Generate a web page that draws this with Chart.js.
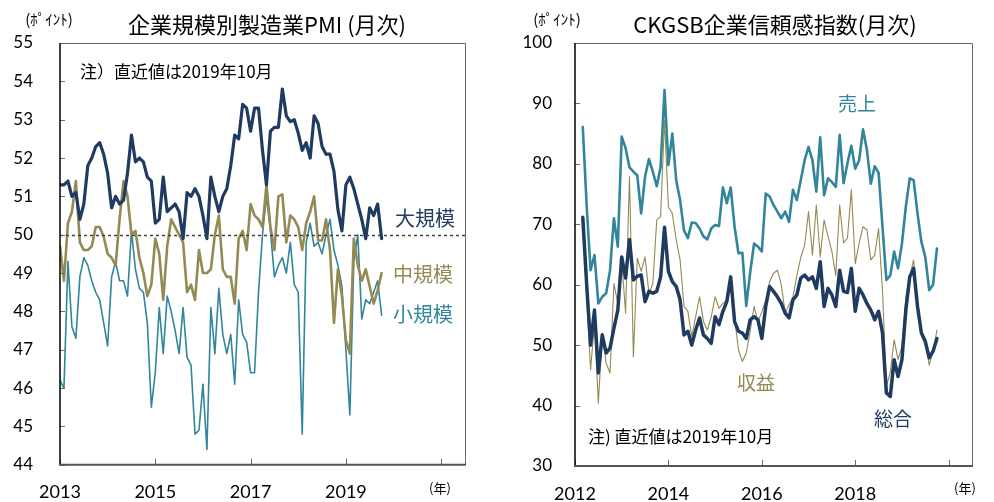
<!DOCTYPE html>
<html>
<head>
<meta charset="utf-8">
<script src="https://cdn.jsdelivr.net/npm/chart.js@4.4.1/dist/chart.umd.min.js"></script>
<style>
  html, body { margin: 0; padding: 0; background: #fff; }
  #wrap { position: relative; width: 994px; height: 502px; overflow: hidden; }
  canvas { position: absolute; top: 0; }
  #c1 { left: 0; }
  #c2 { left: 497px; }
</style>
</head>
<body>
<div id="wrap">
  <canvas id="c1" width="497" height="502"></canvas>
  <canvas id="c2" width="497" height="502"></canvas>
</div>
<script>
// ---------------- DATA ----------------
// Left: 企業規模別製造業PMI, monthly from 2013-01 to 2019-10
const pmiStart = { year: 2013, month: 1 };
const pmiLarge = [
  51.3, 51.3, 51.4, 51.0, 51.1, 50.4, 50.8, 51.8, 52.0, 52.3,
  52.4, 52.1, 51.6, 50.7, 51.0, 50.8, 50.9, 51.6, 52.6, 51.9,
  52.0, 51.9, 51.5, 51.4, 50.3, 50.4, 51.5, 50.6, 50.7, 50.8,
  50.6, 49.9, 51.1, 51.0, 51.2, 51.0, 50.5, 49.9, 51.5, 51.0,
  50.6, 51.0, 51.2, 51.8, 52.6, 52.5, 53.4, 53.3, 52.7, 53.3,
  53.3, 52.2, 51.3, 52.7, 52.8, 52.8, 53.8, 53.1, 52.95, 53.0,
  52.65, 52.2, 52.4, 52.0, 53.1, 52.9, 52.3, 52.1, 52.1, 51.65,
  50.65, 50.1, 51.3, 51.5, 51.2, 50.8, 50.4, 49.9, 50.7, 50.5,
  50.8, 49.9
];
const pmiMedium = [
  49.7, 48.8, 50.3, 50.6, 51.4, 49.8, 49.6, 49.6, 49.7, 50.2,
  50.2, 49.95, 49.5, 49.4, 49.2, 50.4, 51.4, 51.0, 50.0, 50.1,
  49.4, 49.0, 48.4, 48.7, 49.9, 49.5, 48.3, 49.7, 50.4, 50.2,
  50.0, 49.8, 48.5, 48.7, 48.3, 49.6, 49.0, 49.0, 49.1, 50.0,
  50.5, 49.1, 48.9, 48.9, 48.2, 49.9, 50.1, 49.6, 50.8, 50.5,
  50.4, 50.2, 51.3, 50.2, 49.6, 51.0, 51.05, 49.8, 50.5, 50.4,
  50.2, 49.6, 50.3, 50.6, 51.0, 49.85, 49.85, 50.4, 49.6, 47.7,
  49.1, 48.4, 47.25, 46.9, 49.9, 49.2, 48.8, 49.1, 48.65, 48.2,
  48.55, 49.0
];
const pmiSmall = [
  46.2, 46.0, 49.3, 47.6, 47.3, 48.9, 49.4, 49.2, 48.8, 48.5,
  48.3, 47.7, 47.1, 48.9, 49.3, 48.8, 48.8, 48.4, 50.1, 49.1,
  48.6, 48.5, 47.7, 45.5, 46.4, 48.1, 46.9, 48.4, 48.0, 47.5,
  46.9, 48.1, 46.8, 46.6, 44.8, 44.9, 46.1, 44.4, 48.1, 46.9,
  48.6, 47.4, 46.9, 47.4, 46.1, 48.3, 47.4, 47.2, 46.4, 46.4,
  48.5, 50.0, 51.0, 50.1, 48.9, 49.2, 49.4, 49.0, 49.8, 48.7,
  48.5, 44.8, 49.8, 50.3, 49.7, 49.8, 49.5, 50.0, 50.4, 49.6,
  49.2, 48.65, 47.0, 45.3, 49.3, 50.0, 47.8, 48.3, 48.2, 48.5,
  48.8, 47.9
];
const pmiTickYears = ['2013', '2015', '2017', '2019', ''];

// Right: CKGSB企業信頼感指数, monthly from 2012-03 to 2019-10
const bciStart = { year: 2012, month: 3 };
const bciSales = [
  86.1, 73.0, 62.4, 64.9, 56.9, 58.0, 58.6, 62.4, 71.0, 66.3,
  84.5, 82.6, 79.4, 78.7, 78.1, 71.8, 77.9, 80.8, 78.7, 76.3,
  79.5, 92.2, 79.8, 85.0, 77.3, 74.0, 69.0, 67.7, 70.3, 70.2,
  69.3, 68.0, 67.5, 69.3, 69.9, 69.7, 76.1, 73.5, 76.1, 69.6,
  65.2, 65.3, 56.5, 62.0, 66.8, 66.3, 65.5, 75.1, 74.6, 73.2,
  72.1, 71.0, 72.1, 70.4, 75.7, 74.0, 77.3, 80.6, 82.8, 80.6,
  75.4, 84.4, 74.8, 77.6, 77.0, 76.2, 84.8, 76.8, 80.1, 83.0,
  79.2, 80.6, 85.7, 82.3, 76.7, 79.6, 78.5, 69.6, 60.8, 61.5,
  65.5, 62.7, 66.8, 72.9, 77.6, 77.3, 71.8, 67.1, 64.6, 59.1,
  60.0, 66.0
];
const bciProfit = [
  71.0, 58.0, 45.9, 53.6, 40.4, 52.0, 47.0, 45.4, 60.2, 56.9,
  64.1, 55.3, 77.9, 48.1, 64.4, 62.2, 64.6, 58.6, 60.2, 70.7,
  71.3, 87.2, 72.9, 71.8, 67.4, 64.1, 56.4, 55.6, 51.4, 54.7,
  58.0, 53.9, 52.5, 54.7, 58.0, 56.1, 56.9, 57.5, 61.3, 54.5,
  49.2, 47.3, 48.7, 52.3, 56.4, 53.9, 55.5, 57.5, 60.5, 61.9,
  62.4, 60.0, 55.3, 56.7, 58.0, 61.5, 64.5, 66.5, 72.1, 64.9,
  73.2, 64.6, 70.7, 68.0, 65.5, 61.5, 73.2, 66.9, 67.7, 75.7,
  63.5, 66.9, 69.6, 69.1, 64.1, 64.9, 69.3, 59.0, 43.2, 45.5,
  50.9, 47.6, 49.8, 58.0, 61.3, 64.1, 57.2, 52.0, 51.1, 46.7,
  49.0, 52.5
];
const bciOverall = [
  71.15, 60.0, 50.0, 55.8, 45.4, 51.7, 48.7, 49.5, 52.8, 55.8,
  64.6, 61.1, 67.5, 60.8, 61.4, 61.6, 57.2, 58.9, 58.6, 58.9,
  61.3, 69.5, 62.2, 60.5, 59.7, 57.5, 51.7, 52.3, 50.0, 52.5,
  54.5, 51.7, 51.1, 50.3, 54.7, 53.4, 55.6, 57.2, 61.3, 53.9,
  52.3, 52.0, 51.1, 54.2, 54.7, 54.2, 51.1, 56.4, 59.7, 58.9,
  58.0, 56.9, 55.3, 54.5, 57.5, 58.3, 61.1, 61.6, 60.8, 61.3,
  59.4, 63.8, 56.4, 59.4, 58.3, 56.4, 62.4, 58.9, 58.7, 62.7,
  55.6, 59.4, 58.3, 56.9, 55.8, 54.2, 55.6, 52.0, 42.1, 41.5,
  47.6, 44.8, 47.6, 55.8, 61.3, 62.7, 56.4, 52.0, 50.6, 47.9,
  49.0, 51.1
];
const bciTickYears = ['2012', '2014', '2016', '2018', ''];

// ---------------- HELPERS ----------------
const NAVY = '#1F3B61', OLIVE = '#948A54', TEAL = '#31859C';
const JP = '"Noto Sans CJK JP", "Noto Sans", sans-serif';
const NUM = 'Lato, "Liberation Sans", sans-serif';

// axis origin is January of the first labelled year; x value = months since then
function toPoints(values, start, baseYear) {
  const off = (start.year - baseYear) * 12 + (start.month - 1);
  return values.map((v, i) => ({ x: off + i, y: v }));
}
const tickMonths = [0, 24, 48, 72, 96];

const frame = {
  id: 'frame',
  afterDatasetsDraw(chart) {
    const o = chart.options.plugins.frame;
    const { ctx, chartArea: a, scales: { x, y } } = chart;
    ctx.save();
    if (o.refLine !== undefined) {
      const py = Math.round(y.getPixelForValue(o.refLine)) + 0.5;
      ctx.strokeStyle = '#404040'; ctx.lineWidth = 1.5; ctx.setLineDash([3, 3]);
      ctx.beginPath(); ctx.moveTo(a.left, py); ctx.lineTo(a.right, py); ctx.stroke();
      ctx.setLineDash([]);
    }
    // top & right border
    ctx.strokeStyle = '#6a6a6a'; ctx.lineWidth = 1;
    ctx.beginPath();
    ctx.moveTo(a.left, a.top + 0.5); ctx.lineTo(a.right + 0.5, a.top + 0.5); ctx.lineTo(a.right + 0.5, a.bottom);
    ctx.stroke();
    // inside ticks
    ctx.strokeStyle = '#6a6a6a'; ctx.lineWidth = 1;
    y.ticks.forEach((t, i) => {
      const py = Math.round(y.getPixelForTick(i)) + 0.5;
      ctx.beginPath(); ctx.moveTo(a.left, py); ctx.lineTo(a.left + 5, py); ctx.stroke();
    });
    x.ticks.forEach((t, i) => {
      const px = Math.round(x.getPixelForTick(i)) + 0.5;
      ctx.beginPath(); ctx.moveTo(px, a.bottom); ctx.lineTo(px, a.bottom - 6); ctx.stroke();
    });
    // left axis
    ctx.strokeStyle = '#000'; ctx.lineWidth = 1.5;
    ctx.beginPath(); ctx.moveTo(a.left, a.top); ctx.lineTo(a.left, a.bottom); ctx.stroke();
    // bottom axis
    ctx.strokeStyle = '#555'; ctx.lineWidth = 2;
    ctx.beginPath(); ctx.moveTo(a.left - 1, a.bottom); ctx.lineTo(a.right + 1, a.bottom); ctx.stroke();
    ctx.restore();
  },
  afterDraw(chart) {
    const o = chart.options.plugins.frame;
    const ctx = chart.ctx;
    ctx.save();
    ctx.textBaseline = 'middle';
    o.texts.forEach(t => {
      ctx.font = t.font;
      ctx.fillStyle = t.color || '#000';
      ctx.textAlign = t.align || 'left';
      ctx.fillText(t.text, t.x, t.y);
    });
    ctx.restore();
  }
};

function makeChart(id, cfg) {
  return new Chart(document.getElementById(id), {
    type: 'line',
    data: { datasets: cfg.datasets },
    options: {
      responsive: false,
      animation: false,
      devicePixelRatio: 1,
      layout: { padding: { top: cfg.top, right: cfg.right, left: 0, bottom: 0 } },
      elements: { point: { radius: 0 }, line: { tension: 0, borderJoinStyle: 'round', borderCapStyle: 'round' } },
      plugins: { legend: { display: false }, title: { display: false }, tooltip: { enabled: false },
        frame: { refLine: cfg.refLine, texts: cfg.texts } },
      scales: {
        x: {
          type: 'linear', min: 0, max: 102,
          afterBuildTicks: s => { s.ticks = tickMonths.map(v => ({ value: v })); },
          afterFit: s => { s.height = 502 - cfg.bottom; },
          grid: { display: false, drawTicks: false },
          border: { display: false },
          ticks: { padding: 17, color: '#000', font: { family: NUM, size: 18 }, maxRotation: 0, autoSkip: false,
            callback: v => cfg.xLabels[tickMonths.indexOf(v)] }
        },
        y: {
          min: cfg.yMin, max: cfg.yMax,
          afterFit: s => { s.width = cfg.left; },
          grid: { display: false, drawTicks: false },
          border: { display: false },
          ticks: { stepSize: cfg.yStep, padding: cfg.yPad, color: '#000', font: { family: NUM, size: 17 } }
        }
      }
    },
    plugins: [frame]
  });
}

makeChart('c1', {
  left: 60, right: 32, top: 43, bottom: 465,
  yMin: 44, yMax: 55, yStep: 1, yPad: 27, refLine: 50,
  xLabels: pmiTickYears,
  datasets: [
    { label: '大規模', data: toPoints(pmiLarge, pmiStart, 2013), borderColor: NAVY, borderWidth: 3.2 },
    { label: '中規模', data: toPoints(pmiMedium, pmiStart, 2013), borderColor: OLIVE, borderWidth: 2.6 },
    { label: '小規模', data: toPoints(pmiSmall, pmiStart, 2013), borderColor: TEAL, borderWidth: 1.6 }
  ],
  texts: [
    { text: '企業規模別製造業PMI (月次)', x: 267, y: 25, align: 'center', font: '22px ' + JP },
    { text: '(ﾎﾟｲﾝﾄ)', x: 49, y: 19, align: 'center', font: '15px ' + JP },
    { text: '注）直近値は2019年10月', x: 80, y: 72, font: '17px ' + JP },
    { text: '大規模', x: 395, y: 218, color: NAVY, font: '20px ' + JP },
    { text: '中規模', x: 393, y: 274, color: OLIVE, font: '20px ' + JP },
    { text: '小規模', x: 393, y: 314, color: TEAL, font: '20px ' + JP },
    { text: '(年)', x: 440, y: 488, align: 'center', font: '13px ' + JP }
  ]
});

makeChart('c2', {
  left: 78, right: 22, top: 43, bottom: 466,
  yMin: 30, yMax: 100, yStep: 10, yPad: 23,
  xLabels: bciTickYears,
  datasets: [
    { label: '総合', data: toPoints(bciOverall, bciStart, 2012), borderColor: NAVY, borderWidth: 3.5 },
    { label: '収益', data: toPoints(bciProfit, bciStart, 2012), borderColor: OLIVE, borderWidth: 1.1 },
    { label: '売上', data: toPoints(bciSales, bciStart, 2012), borderColor: TEAL, borderWidth: 2.6 }
  ],
  texts: [
    { text: 'CKGSB企業信頼感指数(月次)', x: 278, y: 25, align: 'center', font: '22px ' + JP },
    { text: '(ﾎﾟｲﾝﾄ)', x: 60, y: 19, align: 'center', font: '15px ' + JP },
    { text: '注) 直近値は2019年10月', x: 91, y: 437, font: '17px ' + JP },
    { text: '売上', x: 360, y: 104, align: 'center', color: TEAL, font: '19px ' + JP },
    { text: '収益', x: 259, y: 383, align: 'center', color: OLIVE, font: '19px ' + JP },
    { text: '総合', x: 396, y: 419, align: 'center', color: NAVY, font: '19px ' + JP },
    { text: '(年)', x: 468, y: 488, align: 'center', font: '13px ' + JP }
  ]
});
</script>
</body>
</html>
